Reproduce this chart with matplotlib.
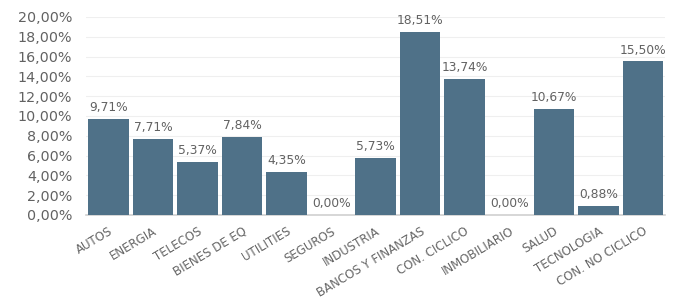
import matplotlib
matplotlib.use("Agg")
import matplotlib.pyplot as plt
from matplotlib.ticker import FuncFormatter

categories = ["AUTOS", "ENERGIA", "TELECOS", "BIENES DE EQ", "UTILITIES", "SEGUROS",
              "INDUSTRIA", "BANCOS Y FINANZAS", "CON. CICLICO", "INMOBILIARIO",
              "SALUD", "TECNOLOGIA", "CON. NO CICLICO"]
values = [9.71, 7.71, 5.37, 7.84, 4.35, 0.00, 5.73, 18.51, 13.74, 0.00, 10.67, 0.88, 15.50]
yticks = [0, 2, 4, 6, 8, 10, 12, 14, 16, 18, 20]

plt.rcParams['font.family'] = ['DejaVu Sans']
txt = '#626262'
fig = plt.figure(figsize=(6.88, 3.08), dpi=100)
ax = fig.add_axes([0.125, 0.302, 0.842, 0.643])
x = range(len(categories))
ax.bar(x, values, width=0.91, color='#4f7188', zorder=3)
for i, v in zip(x, values):
    ax.text(i, v + 0.5, f"{v:.2f}%".replace('.', ','), ha='center', va='bottom',
            fontsize=8.8, color=txt, zorder=4)
ax.set_xlim(-0.5, len(categories) - 0.5)
ax.set_ylim(0, 20)
ax.set_yticks(yticks)
ax.yaxis.set_major_formatter(FuncFormatter(lambda v, p: f"{v:.2f}%".replace('.', ',')))
ax.set_xticks(list(x))
ax.set_xticklabels(categories, rotation=31, ha='right', rotation_mode='anchor',
                   fontsize=8.5, color='#666666')
ax.tick_params(axis='y', labelsize=10.3, colors=txt, length=0, pad=10)
ax.tick_params(axis='x', length=0, pad=7)
ax.grid(axis='y', color='#efefef', linewidth=0.8, zorder=0)
for s in ['top', 'right', 'left']:
    ax.spines[s].set_visible(False)
ax.spines['bottom'].set_color('#d0d0d0')
ax.spines['bottom'].set_linewidth(1.2)
fig.savefig('out.png', dpi=100)
